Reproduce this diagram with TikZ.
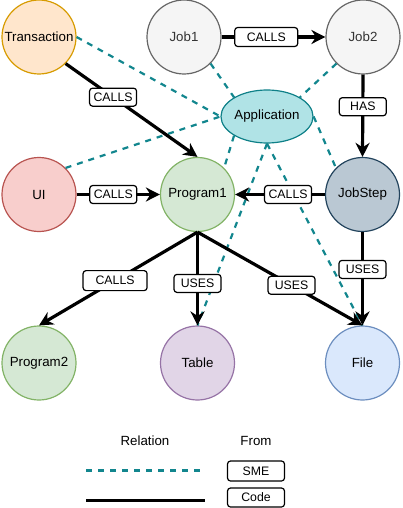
\documentclass[tikz,border=0pt]{standalone}
\usepackage{fontspec}
\setmainfont{Liberation Sans}
\usetikzlibrary{shapes.geometric,arrows.meta}
\definecolor{trF}{HTML}{FFE6CC}\definecolor{trS}{HTML}{D79B00}
\definecolor{jobF}{HTML}{F5F5F5}\definecolor{jobS}{HTML}{666666}\definecolor{jobT}{HTML}{333333}
\definecolor{appF}{HTML}{B0E3E6}\definecolor{appS}{HTML}{0E8088}
\definecolor{uiF}{HTML}{F8CECC}\definecolor{uiS}{HTML}{B85450}
\definecolor{pF}{HTML}{D5E8D4}\definecolor{pS}{HTML}{82B366}
\definecolor{jsF}{HTML}{BAC8D3}\definecolor{jsS}{HTML}{23445D}
\definecolor{tbF}{HTML}{E1D5E7}\definecolor{tbS}{HTML}{9673A6}
\definecolor{fiF}{HTML}{DAE8FC}\definecolor{fiS}{HTML}{6C8EBF}
\definecolor{smeC}{HTML}{12868E}
\begin{document}
\begin{tikzpicture}[x=1pt,y=-1pt,
  ent/.style={circle,minimum size=74pt,inner sep=0pt,line width=1.2pt,font=\fontsize{13.3}{15}\selectfont},
  lbl/.style={draw=black,fill=white,rounded corners=3pt,line width=1.2pt,minimum width=47pt,minimum height=18pt,inner sep=2pt,font=\fontsize{12.3}{14}\selectfont},
  codeedge/.style={line width=3.2pt,-{Stealth[length=14pt,width=14pt,inset=4.5pt]}},
  smeedge/.style={draw=smeC,line width=2.2pt,dash pattern=on 6pt off 6pt},
  legtext/.style={font=\fontsize{13.3}{15}\selectfont,inner sep=0pt}
]
\useasboundingbox (0,0) rectangle (402,508);
% nodes
\node[ent,draw=trS,fill=trF] (tr) at (39,37) {Transaction};
\node[ent,draw=jobS,fill=jobF,text=jobT] (j1) at (184,37) {Job1};
\node[ent,draw=jobS,fill=jobF,text=jobT] (j2) at (363,37) {Job2};
\node[ellipse,draw=appS,fill=appF,line width=1.2pt,minimum width=81pt,minimum height=53pt,inner sep=0pt,font=\fontsize{13.3}{15}\selectfont] (app) at (267,116.5) {Application};
\node[ent,draw=uiS,fill=uiF] (ui) at (39,194.5) {UI};
\node[ent,draw=pS,fill=pF] (p1) at (197.5,194.5) {Program1};
\node[ent,draw=jsS,fill=jsF] (js) at (362.5,194.5) {JobStep};
\node[ent,draw=pS,fill=pF] (p2) at (39,363) {Program2};
\node[ent,draw=tbS,fill=tbF] (tb) at (197.5,363) {Table};
\node[ent,draw=fiS,fill=fiF] (fi) at (362.5,363) {File};
% SME relations
\draw[smeedge] (tr.east) -- (app.west);
\draw[smeedge] (ui.north east) -- (app.west);
\draw[smeedge] (j1.south east) -- (app.north west);
\draw[smeedge] (j2.south west) -- (app.north east);
\draw[smeedge] (app.south west) -- (p1.north east);
\draw[smeedge] (app.south) -- (tb.north);
\draw[smeedge] (app.south) -- (fi.north);
\draw[smeedge] (app.east) -- (js.north west);
% Code relations
\draw[codeedge] (j1.east) -- node[lbl,pos=0.43,minimum width=63pt,minimum height=19pt]{CALLS} (j2.west);
\draw[codeedge] (tr.south east) -- node[lbl,pos=0.36]{CALLS} (p1.north);
\draw[codeedge] (j2.south) -- node[lbl,pos=0.39]{HAS} (js.north);
\draw[codeedge] (ui.east) -- node[lbl,pos=0.44]{CALLS} (p1.west);
\draw[codeedge] (js.west) -- node[lbl,pos=0.41]{CALLS} (p1.east);
\draw[codeedge] (p1.south) -- node[lbl,pos=0.52,minimum width=64pt,minimum height=20pt]{CALLS} (p2.north);
\draw[codeedge] (p1.south) -- node[lbl,pos=0.55]{USES} (tb.north);
\draw[codeedge] (p1.south) -- node[lbl,pos=0.57]{USES} (fi.north);
\draw[codeedge] (js.south) -- node[lbl,pos=0.4]{USES} (fi.north);
% legend
\node[legtext] (rel) at (145,441) {Relation};
\node[legtext] (from) at (256,441) {From};
\coordinate (d1) at (86,470.5);
\coordinate (d2) at (201,470.5);
\draw[smeedge] (d1) -- (d2);
\coordinate (s1) at (86,500.5);
\coordinate (s2) at (205,500.5);
\draw[line width=3pt] (s1) -- (s2);
\node[lbl,minimum width=57pt,minimum height=20pt] (smeb) at (256,471) {SME};
\node[lbl,minimum width=57pt,minimum height=19pt] (codeb) at (256,497.5) {Code};
\end{tikzpicture}
\end{document}
